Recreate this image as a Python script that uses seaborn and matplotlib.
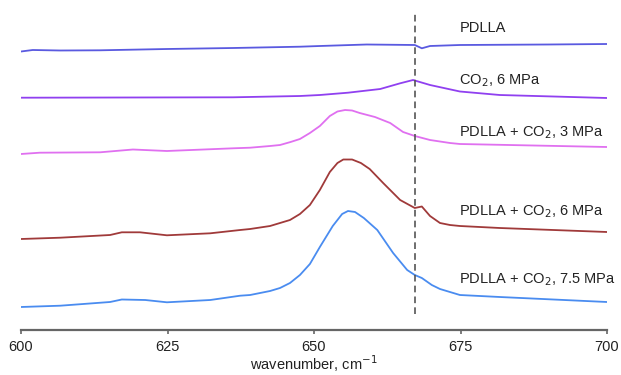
import matplotlib
matplotlib.use("Agg")
import matplotlib.pyplot as plt
import seaborn as sns
import numpy as np

# Spectra (wavenumber in cm-1, stacked absorbance, a.u.)
wn_pdlla = [600, 602, 606.7, 613.5, 624.9, 636.2, 647.6, 651, 659, 667.2, 668.4, 669.8, 674.9, 690, 700]
ab_pdlla = [2.885, 2.90, 2.895, 2.897, 2.91, 2.92, 2.933, 2.94, 2.955, 2.95, 2.917, 2.94, 2.95, 2.955, 2.96]

wn_co2 = [600, 636.2, 647.6, 651, 655.8, 661.3, 664.7, 666.9, 669.8, 674.9, 681.7, 700]
ab_co2 = [2.423, 2.427, 2.44, 2.45, 2.473, 2.51, 2.567, 2.60, 2.55, 2.485, 2.45, 2.42]

wn_3mpa = [600, 603.2, 613.5, 619.1, 624.9, 636.2, 639.1, 642.5, 644.2, 646, 647.6, 649.3, 651,
           652.7, 654, 655.3, 656.5, 657.8, 660.4, 663, 665.2, 667.2, 669.8, 673.2, 674.9, 700]
ab_3mpa = [1.86, 1.873, 1.877, 1.905, 1.89, 1.917, 1.923, 1.94, 1.95, 1.98, 2.01, 2.07, 2.14,
           2.24, 2.285, 2.30, 2.295, 2.27, 2.23, 2.17, 2.08, 2.04, 2.0, 1.97, 1.96, 1.93]

wn_6mpa = [600, 606.7, 615.2, 617.2, 620.3, 624.9, 632.3, 637.4, 639.1, 642.5, 645.9, 647.6, 649.3,
           651, 652.7, 654, 655, 656.5, 658, 659.5, 661.8, 664.7, 667.2, 668.4, 669.8, 671.5,
           673.2, 674.9, 681.7, 700]
ab_6mpa = [1.01, 1.023, 1.05, 1.077, 1.077, 1.047, 1.067, 1.10, 1.11, 1.14, 1.20, 1.26, 1.35,
           1.50, 1.68, 1.77, 1.805, 1.805, 1.77, 1.71, 1.57, 1.40, 1.32, 1.335, 1.24, 1.17,
           1.15, 1.14, 1.12, 1.08]

wn_75mpa = [600, 606.7, 615.2, 617.2, 621.2, 624.9, 632.3, 637.4, 639.1, 642.5, 644.2, 645.9,
            647.6, 649.3, 651, 653.2, 654.8, 655.8, 657, 658.5, 660.8, 663.5, 665.9, 667.2, 668.4,
            670.1, 671.5, 673.2, 674.9, 681.7, 700]
ab_75mpa = [0.33, 0.343, 0.38, 0.405, 0.40, 0.377, 0.40, 0.443, 0.45, 0.49, 0.52, 0.57,
            0.65, 0.76, 0.93, 1.14, 1.26, 1.29, 1.28, 1.22, 1.10, 0.87, 0.70, 0.65, 0.62,
            0.55, 0.51, 0.48, 0.45, 0.43, 0.38]

labels = ["PDLLA", "CO$_2$, 6 MPa", "PDLLA + CO$_2$, 3 MPa",
          "PDLLA + CO$_2$, 6 MPa", "PDLLA + CO$_2$, 7.5 MPa"]
label_y = [3.12, 2.59, 2.07, 1.28, 0.60]
colors = ["#5a5ae0", "#9040f0", "#e070f0", "#a03a3a", "#4a8cf0"]
marker_wn = 667.2

sns.set_style("white")
plt.rcParams["font.family"] = ["Liberation Sans", "DejaVu Sans"]

fig = plt.figure(figsize=(6.21, 3.75), dpi=100)
ax = fig.add_axes([21 / 621, 45 / 375, 586 / 621, 330 / 375])

series = [(wn_pdlla, ab_pdlla), (wn_co2, ab_co2), (wn_3mpa, ab_3mpa),
          (wn_6mpa, ab_6mpa), (wn_75mpa, ab_75mpa)]
for (wn, ab), c in zip(series, colors):
    sns.lineplot(x=wn, y=ab, ax=ax, color=c, lw=1.3, sort=False)

ax.vlines(marker_wn, 0.26, 3.28, colors="#555555", linestyles=(0, (4, 2.5)), lw=1.2)

for lab, y in zip(labels, label_y):
    ax.text(674.8, y, lab, fontsize=10.5, color="#222222", va="center", ha="left")

ax.set_xlim(600, 700)
ax.set_ylim(0.1, 3.4)
ax.set_xticks([600, 625, 650, 675, 700])
ax.set_yticks([])
for s in ["left", "right", "top"]:
    ax.spines[s].set_visible(False)
ax.spines["bottom"].set_color("#666666")
ax.spines["bottom"].set_linewidth(1.6)
ax.tick_params(axis="x", bottom=True, length=3, width=1.2, color="#666666",
               labelsize=10.5, labelcolor="#222222", pad=4)
ax.set_xlabel("wavenumber, cm$^{-1}$", fontsize=10.5, color="#222222", labelpad=0)
ax.set_ylabel("")

fig.savefig("out.png", dpi=100)
